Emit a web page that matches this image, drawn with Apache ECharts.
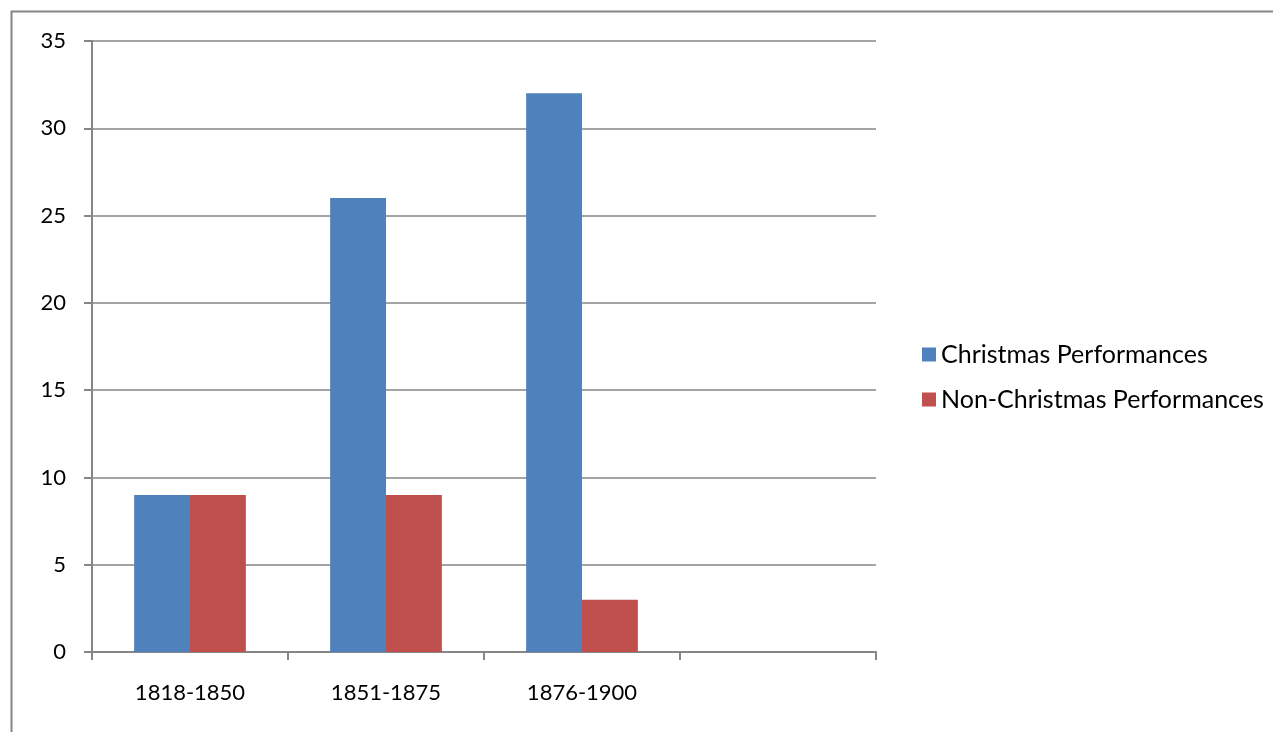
<!DOCTYPE html>
<html>
<head>
<meta charset="utf-8">
<script src="https://cdn.jsdelivr.net/npm/echarts@6/dist/echarts.min.js"></script>
<style>
  html, body { margin: 0; padding: 0; background: #fff; }
  #chart { width: 1273px; height: 732px; }
</style>
</head>
<body>
<div id="chart"></div>
<script>
// periods (last slot is empty in the original sheet)
var categories = ['1818-1850', '1851-1875', '1876-1900', ''];
var christmas = [9, 26, 32, null];
var nonChristmas = [9, 9, 3, null];
var yTicks = [0, 5, 10, 15, 20, 25, 30, 35];

var chart = echarts.init(document.getElementById('chart'));
var font = 'Lato, "Open Sans", sans-serif';

var option = {
  backgroundColor: '#ffffff',
  animation: false,
  color: ['#4F81BD', '#C0504D'],
  graphic: [{
    type: 'rect',
    shape: { x: 11.5, y: 11.5, width: 1400, height: 900 },
    style: { fill: 'none', stroke: '#868686', lineWidth: 2 }
  }],
  grid: { left: 92, right: 397, top: 41, bottom: 80, containLabel: false },
  legend: {
    orient: 'vertical',
    left: 917,
    top: 337,
    itemWidth: 14,
    itemHeight: 14,
    itemGap: 20,
    icon: 'rect',
    textStyle: { fontFamily: font, fontSize: 25, color: '#000' },
    data: ['Christmas Performances', 'Non-Christmas Performances']
  },
  xAxis: {
    type: 'category',
    data: categories,
    axisLine: { lineStyle: { color: '#868686', width: 2 } },
    axisTick: { show: true, length: 8, lineStyle: { color: '#868686', width: 2 } },
    axisLabel: { fontFamily: font, fontSize: 22, color: '#000', margin: 30 }
  },
  yAxis: {
    type: 'value',
    min: yTicks[0],
    max: yTicks[yTicks.length - 1],
    interval: 5,
    axisLine: { show: true, lineStyle: { color: '#868686', width: 2 } },
    axisTick: { show: true, length: 8, lineStyle: { color: '#868686', width: 2 } },
    splitLine: { lineStyle: { color: '#868686', width: 1.5 } },
    axisLabel: { fontFamily: font, fontSize: 22, color: '#000', margin: 26 }
  },
  series: [{
    name: 'Christmas Performances',
    type: 'bar',
    data: christmas,
    barGap: '0%',
    barCategoryGap: '43%'
  }, {
    name: 'Non-Christmas Performances',
    type: 'bar',
    data: nonChristmas
  }]
};

chart.setOption(option);
</script>
</body>
</html>
